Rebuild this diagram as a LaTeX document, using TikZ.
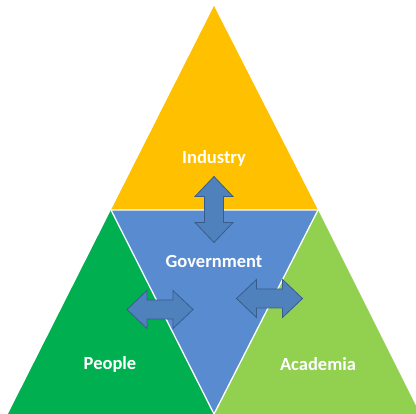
\documentclass[tikz,border=0pt]{standalone}
\usepackage{fontspec}
\setmainfont{Carlito}
\usepackage{tikz}

\definecolor{industry}{HTML}{FFC000}
\definecolor{govt}{HTML}{588BD0}
\definecolor{people}{HTML}{00B050}
\definecolor{academia}{HTML}{92D050}
\definecolor{arrowfill}{HTML}{4F81BD}
\definecolor{arrowline}{HTML}{385D8A}

\tikzset{
    sector/.style={draw=white, line width=1.3pt, line join=miter},
    label/.style={text=white, font=\bfseries\fontsize{18.5}{22}\selectfont},
    link/.style={fill=arrowfill, draw=arrowline, line width=0.8pt},
}

% double headed arrow of length 66, centred on (#1,#2), turned by #3
\newcommand{\linkarrow}[3]{
    \begin{scope}[shift={(#1,#2)}, rotate=#3]
        \draw[link] (-33,0) -- (-13,-19) -- (-13,-9.5) -- (13,-9.5) -- (13,-19)
            -- (33,0) -- (13,19) -- (13,9.5) -- (-13,9.5) -- (-13,19) -- cycle;
    \end{scope}
}

\begin{document}
\begin{tikzpicture}[x=1pt, y=-1pt]
    \useasboundingbox[fill=white] (0,0) rectangle (416,414);

    \coordinate (T) at (214, 6);   % top apex
    \coordinate (L) at (111, 210); % left corner of the middle
    \coordinate (R) at (318, 210); % right corner of the middle
    \coordinate (B) at (214, 414); % bottom apex
    \coordinate (BL) at (8, 414);
    \coordinate (BR) at (420, 414);

    \fill[industry] (T) -- (L) -- (R) -- cycle; % top
    \fill[people] (L) -- (BL) -- (B) -- cycle; % left
    \fill[academia] (R) -- (B) -- (BR) -- cycle; % right
    \fill[govt] (L) -- (R) -- (B) -- cycle; % middle

    \draw[sector] (L) -- (R) -- (B) -- cycle;

    \node[label] (ind) at (214, 158) {Industry};
    \node[label] (gov) at (214, 262) {Government};
    \node[label] (peo) at (110, 364) {People};
    \node[label] (aca) at (318, 364) {Academia};

    \linkarrow{214}{209.5}{90}
    \linkarrow{160}{309.5}{0}
    \linkarrow{269.5}{298.5}{0}
\end{tikzpicture}
\end{document}
